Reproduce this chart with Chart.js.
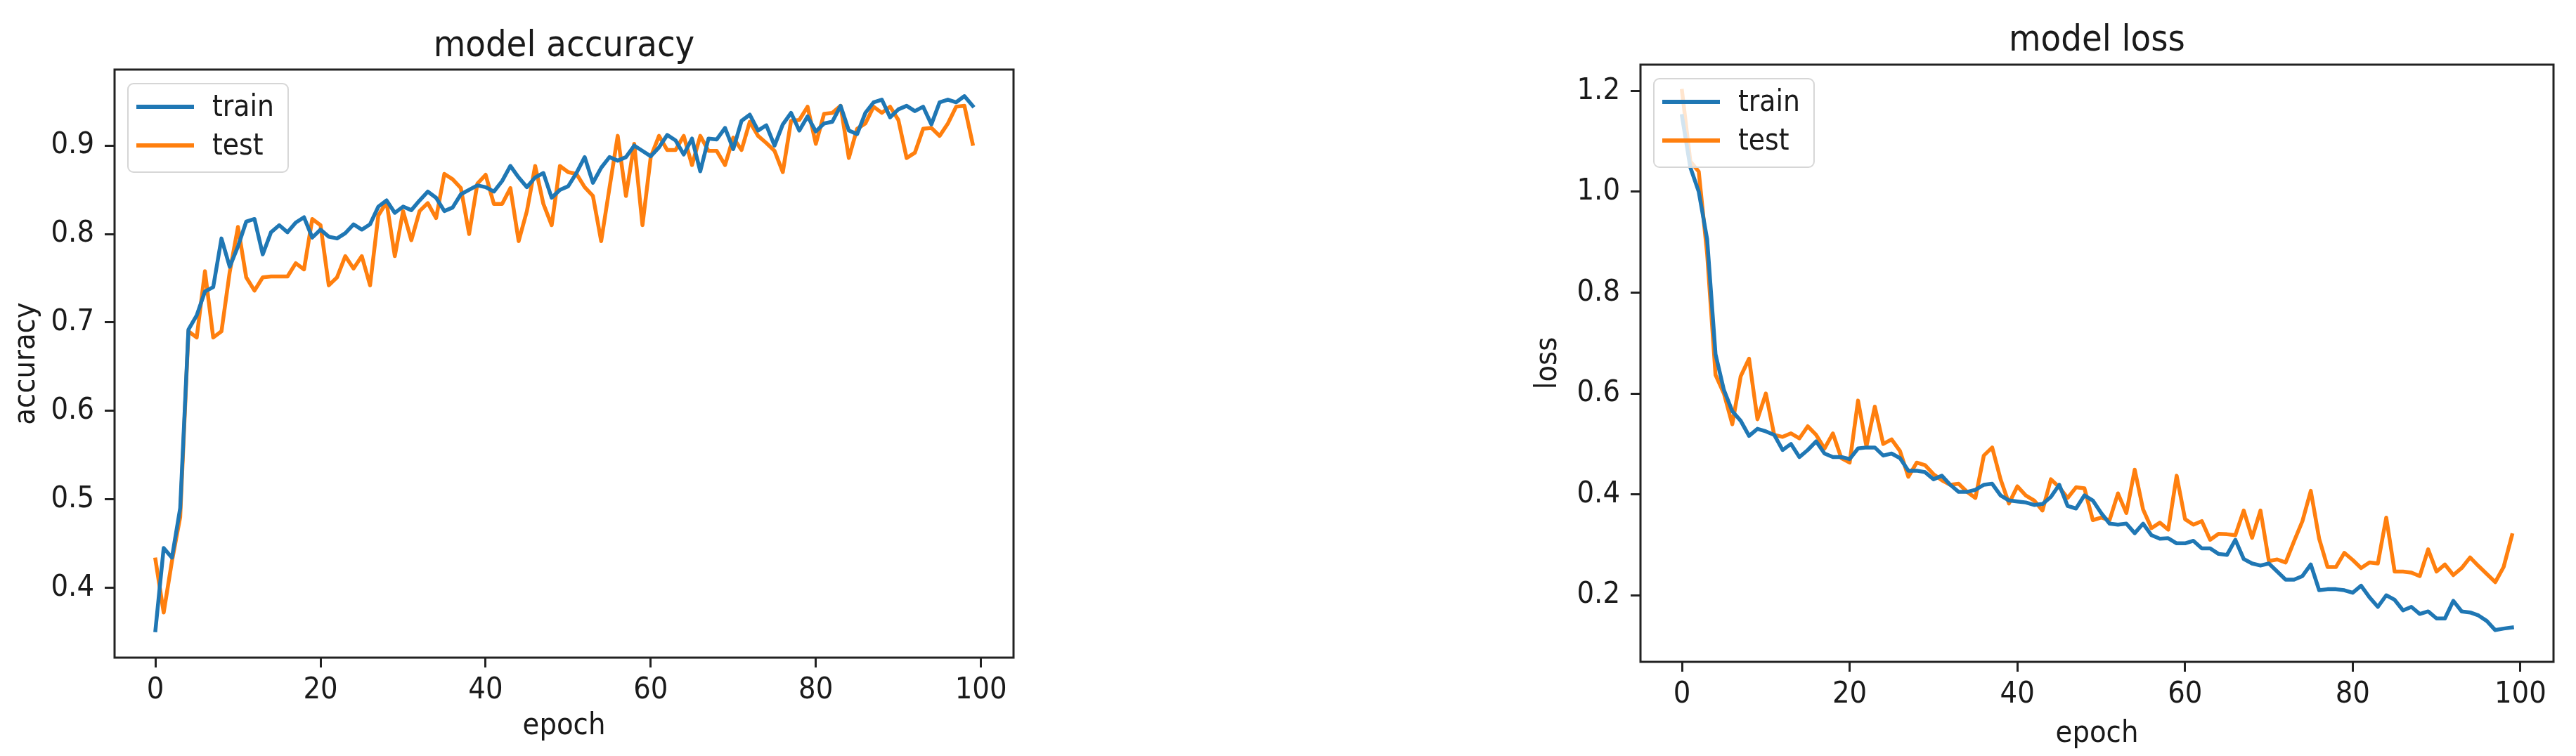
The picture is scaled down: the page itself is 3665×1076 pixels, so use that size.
<!DOCTYPE html>
<html>
<head>
<meta charset="utf-8">
<script src="https://cdn.jsdelivr.net/npm/chart.js@4.4.1/dist/chart.umd.min.js"></script>
<style>
  html, body { margin: 0; padding: 0; background: #fff; }
  body { position: relative; width: 3665px; height: 1076px; overflow: hidden; }
  canvas { position: absolute; top: 0; }
  #acc { left: 0; }
  #loss { left: 2150px; }
</style>
</head>
<body>
<canvas id="acc" width="1500" height="1076"></canvas>
<canvas id="loss" width="1515" height="1076"></canvas>
<script>
// epochs 0..99 (x positions)
const epochs = Array.from({ length: 100 }, (_, i) => i);
const epochTicks = [0, 20, 40, 60, 80, 100];
const epochLimits = [-4.95, 103.95];

const accTicks = [0.4, 0.5, 0.6, 0.7, 0.8, 0.9];
const accLimits = [0.321, 0.986];
const lossTicks = [0.2, 0.4, 0.6, 0.8, 1.0, 1.2];
const lossLimits = [0.068, 1.252];

const accTrain = [0.352,0.445,0.434,0.490,0.692,0.708,0.735,0.740,0.795,0.763,
  0.786,0.814,0.817,0.777,0.802,0.810,0.802,0.813,0.819,0.796,
  0.805,0.797,0.795,0.801,0.811,0.805,0.811,0.831,0.838,0.824,
  0.831,0.827,0.838,0.848,0.841,0.826,0.830,0.845,0.850,0.855,
  0.853,0.848,0.860,0.877,0.864,0.853,0.864,0.869,0.841,0.850,
  0.854,0.869,0.887,0.858,0.875,0.887,0.883,0.887,0.900,0.894,
  0.888,0.898,0.912,0.906,0.890,0.908,0.871,0.908,0.907,0.920,
  0.896,0.928,0.935,0.917,0.923,0.900,0.924,0.937,0.917,0.933,
  0.916,0.925,0.927,0.945,0.917,0.913,0.937,0.949,0.952,0.932,
  0.941,0.945,0.939,0.944,0.924,0.949,0.952,0.949,0.956,0.945];

const accTest = [0.432,0.372,0.430,0.480,0.690,0.683,0.758,0.683,0.690,0.757,
  0.808,0.751,0.736,0.751,0.752,0.752,0.752,0.767,0.760,0.817,
  0.810,0.742,0.751,0.775,0.761,0.775,0.742,0.821,0.836,0.775,
  0.826,0.793,0.826,0.835,0.818,0.868,0.862,0.852,0.800,0.857,
  0.867,0.834,0.834,0.852,0.792,0.826,0.877,0.834,0.810,0.877,
  0.870,0.868,0.853,0.843,0.792,0.852,0.911,0.843,0.902,0.810,
  0.887,0.911,0.895,0.895,0.911,0.878,0.911,0.894,0.894,0.878,
  0.909,0.895,0.927,0.911,0.903,0.894,0.870,0.928,0.929,0.944,
  0.902,0.936,0.937,0.945,0.886,0.919,0.925,0.944,0.937,0.944,
  0.929,0.886,0.892,0.919,0.920,0.911,0.925,0.944,0.945,0.902];

const lossTrain = [1.150,1.048,1.000,0.906,0.678,0.607,0.565,0.546,0.516,0.530,
  0.525,0.518,0.488,0.500,0.474,0.488,0.505,0.481,0.474,0.474,
  0.470,0.491,0.493,0.493,0.477,0.481,0.472,0.447,0.447,0.444,
  0.430,0.437,0.419,0.405,0.405,0.409,0.419,0.421,0.398,0.388,
  0.386,0.384,0.379,0.381,0.395,0.419,0.377,0.372,0.398,0.388,
  0.363,0.342,0.340,0.342,0.323,0.342,0.319,0.312,0.313,0.303,
  0.303,0.308,0.293,0.293,0.282,0.280,0.310,0.272,0.263,0.259,
  0.263,0.247,0.231,0.231,0.238,0.261,0.210,0.212,0.212,0.210,
  0.205,0.219,0.196,0.177,0.200,0.191,0.170,0.177,0.163,0.168,
  0.154,0.154,0.189,0.168,0.166,0.160,0.149,0.131,0.134,0.136];

const lossTest = [1.200,1.060,1.040,0.877,0.637,0.600,0.539,0.634,0.669,0.549,
  0.600,0.518,0.514,0.521,0.511,0.535,0.518,0.491,0.521,0.472,
  0.463,0.586,0.495,0.574,0.500,0.509,0.486,0.435,0.463,0.458,
  0.440,0.428,0.419,0.421,0.405,0.393,0.477,0.493,0.430,0.382,
  0.416,0.398,0.388,0.368,0.430,0.414,0.393,0.414,0.412,0.349,
  0.354,0.349,0.402,0.363,0.449,0.370,0.333,0.344,0.330,0.437,
  0.351,0.340,0.347,0.310,0.322,0.321,0.319,0.368,0.314,0.368,
  0.268,0.271,0.265,0.307,0.347,0.407,0.312,0.256,0.256,0.284,
  0.270,0.254,0.265,0.263,0.354,0.247,0.247,0.245,0.238,0.291,
  0.247,0.261,0.240,0.254,0.275,0.258,0.242,0.226,0.256,0.319];

const FAMILY = "'DejaVu Sans Condensed', 'DejaVu Sans', sans-serif";
const INK = '#1a1a1a';
const BLUE = '#1f77b4';
const ORANGE = '#ff7f0e';

// frame, title and boxed legend like matplotlib
const mplDecor = {
  id: 'mplDecor',
  afterDatasetsDraw(chart, args, opts) {
    const { ctx, chartArea: a } = chart;
    ctx.save();
    ctx.strokeStyle = '#222';
    ctx.lineWidth = 3;
    ctx.strokeRect(a.left, a.top, a.right - a.left, a.bottom - a.top);

    ctx.font = '42px ' + FAMILY;
    const ds = chart.data.datasets;
    const textW = Math.max(...ds.map(d => ctx.measureText(d.label).width));
    const x = a.left + 19, y = a.top + 20;
    const w = 12 + 82 + 26 + textW + 20, h = 126;
    ctx.beginPath();
    ctx.roundRect(x, y, w, h, 8);
    ctx.fillStyle = 'rgba(255,255,255,0.8)';
    ctx.fill();
    ctx.strokeStyle = '#d6d6d6';
    ctx.lineWidth = 2;
    ctx.stroke();
    ds.forEach((d, i) => {
      const cy = y + 33 + i * 55;
      ctx.beginPath();
      ctx.moveTo(x + 12, cy);
      ctx.lineTo(x + 94, cy);
      ctx.strokeStyle = d.borderColor;
      ctx.lineWidth = 6;
      ctx.stroke();
      ctx.fillStyle = INK;
      ctx.textBaseline = 'middle';
      ctx.textAlign = 'left';
      ctx.fillText(d.label, x + 120, cy + 2);
    });

    ctx.font = '52px ' + FAMILY;
    ctx.fillStyle = INK;
    ctx.textAlign = 'center';
    ctx.textBaseline = 'middle';
    ctx.fillText(opts.title, (a.left + a.right) / 2, opts.titleY);
    ctx.restore();
  }
};

function pts(ys) {
  return epochs.map((e, i) => ({ x: e, y: ys[i] }));
}

function makeChart(id, cfg) {
  const tickFont = { family: FAMILY, size: 43 };
  new Chart(document.getElementById(id), {
    type: 'line',
    data: {
      datasets: [
        { label: 'train', data: pts(cfg.train), borderColor: BLUE, backgroundColor: BLUE },
        { label: 'test', data: pts(cfg.test), borderColor: ORANGE, backgroundColor: ORANGE }
      ]
    },
    options: {
      responsive: false,
      animation: false,
      events: [],
      elements: {
        point: { radius: 0 },
        line: { borderWidth: 5.5, tension: 0, borderCapStyle: 'square', borderJoinStyle: 'round' }
      },
      layout: { padding: { left: 0, right: cfg.padRight, top: cfg.areaTop, bottom: 0 } },
      plugins: {
        legend: { display: false },
        tooltip: { enabled: false },
        mplDecor: { title: cfg.title, titleY: cfg.titleY }
      },
      scales: {
        x: {
          type: 'linear',
          min: epochLimits[0],
          max: epochLimits[1],
          afterBuildTicks: s => { s.ticks = epochTicks.map(v => ({ value: v })); },
          afterFit: s => { s.height = cfg.xAxisH; },
          ticks: { font: tickFont, color: INK, padding: 7, autoSkip: false, maxRotation: 0, callback: v => String(v) },
          grid: { display: true, drawOnChartArea: false, drawTicks: true, tickLength: 14, tickWidth: 3, tickColor: '#222' },
          border: { display: false },
          title: { display: true, text: 'epoch', font: tickFont, color: INK, padding: { top: 0, bottom: cfg.xTitlePad } }
        },
        y: {
          min: cfg.limits[0],
          max: cfg.limits[1],
          afterBuildTicks: s => { s.ticks = cfg.ticks.map(v => ({ value: v })); },
          afterFit: s => { s.width = cfg.yAxisW; },
          ticks: { font: tickFont, color: INK, padding: 15, callback: v => v.toFixed(1) },
          grid: { display: true, drawOnChartArea: false, drawTicks: true, tickLength: 14, tickWidth: 3, tickColor: '#222' },
          border: { display: false },
          title: { display: true, text: cfg.ylabel, font: tickFont, color: INK, padding: { top: cfg.yTitlePad, bottom: 0 } }
        }
      }
    },
    plugins: [mplDecor]
  });
}

makeChart('acc', {
  train: accTrain, test: accTest, ticks: accTicks, limits: accLimits,
  title: 'model accuracy', titleY: 66, ylabel: 'accuracy',
  areaTop: 99, padRight: 58, yAxisW: 163, xAxisH: 140, xTitlePad: 16, yTitlePad: 12
});

makeChart('loss', {
  train: lossTrain, test: lossTest, ticks: lossTicks, limits: lossLimits,
  title: 'model loss', titleY: 58, ylabel: 'loss',
  areaTop: 92, padRight: 32, yAxisW: 184, xAxisH: 134, xTitlePad: 5, yTitlePad: 27
});
</script>
</body>
</html>
